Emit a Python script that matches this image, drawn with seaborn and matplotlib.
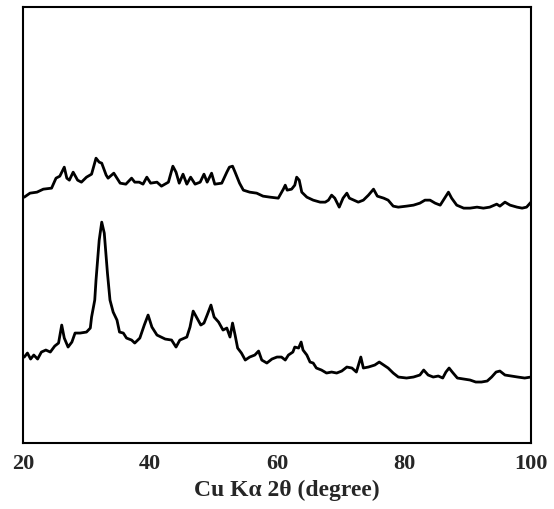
import numpy as np
import pandas as pd
import matplotlib
matplotlib.use("Agg")
import matplotlib.pyplot as plt
import seaborn as sns

sns.set_style("white")
plt.rcParams["font.family"] = ["Liberation Serif", "DejaVu Serif"]

# upper pattern (2theta, intensity in arbitrary units)
upper_x = [20.0, 20.2, 21.1, 22.2, 23.2, 24.5, 25.2, 25.8, 26.5, 26.9, 27.3, 27.9, 28.6,
           29.2, 30.0, 30.8, 31.5, 32.0, 32.4, 33.1, 33.4, 34.3, 35.3, 36.2, 37.1, 37.6,
           38.3, 38.9, 39.5, 40.1, 41.1, 41.8, 42.9, 43.6, 44.1, 44.6, 45.2, 45.8, 46.4,
           47.1, 47.9, 48.5, 49.0, 49.7, 50.2, 51.3, 52.1, 52.5, 53.0, 53.4, 54.1, 54.7,
           55.7, 56.8, 57.8, 58.9, 60.2, 61.0, 61.3, 61.6, 62.3, 62.8, 63.1, 63.5, 63.9,
           64.7, 65.7, 66.8, 67.6, 68.1, 68.6, 69.1, 69.8, 70.4, 71.0, 71.4, 72.1, 72.8,
           73.6, 74.4, 75.2, 75.8, 76.8, 77.5, 78.3, 79.1, 80.4, 81.5, 82.5, 83.3, 84.1,
           84.9, 85.7, 86.5, 87.0, 87.5, 88.3, 89.4, 90.4, 91.5, 92.5, 93.5, 94.6, 95.1,
           95.9, 96.7, 97.8, 98.6, 99.3, 100.0]
upper_y = [246, 246, 250, 251, 254, 255, 265, 267, 276, 265, 263, 271, 263,
           261, 266, 269, 285, 281, 280, 268, 265, 270, 260, 259, 265, 261,
           261, 259, 266, 260, 261, 257, 261, 277, 271, 260, 269, 259, 266,
           259, 261, 269, 261, 270, 259, 260, 271, 276, 277, 271, 260, 253,
           251, 250, 247, 246, 245, 254, 258, 253, 254, 258, 266, 263, 251,
           246, 243, 241, 241, 243, 248, 245, 236, 245, 250, 245, 243, 241,
           243, 248, 254, 247, 245, 243, 237, 236, 237, 238, 240, 243, 243,
           240, 238, 246, 251, 245, 238, 235, 235, 236, 235, 236, 239, 237,
           241, 238, 236, 235, 236, 241]

# lower pattern
lower_x = [20.0, 20.2, 20.7, 21.2, 21.7, 22.3, 22.9, 23.6, 24.3, 25.0, 25.6, 26.1, 26.5,
           27.1, 27.7, 28.2, 29.0, 30.0, 30.6, 30.8, 31.3, 31.5, 32.0, 32.4, 32.8, 33.3,
           33.7, 34.2, 34.8, 35.2, 35.8, 36.3, 37.1, 37.6, 38.4, 39.1, 39.7, 40.3, 41.1,
           42.4, 43.4, 44.1, 44.7, 45.8, 46.3, 46.8, 47.4, 48.0, 48.5, 49.0, 49.6, 50.1,
           50.8, 51.5, 52.1, 52.6, 53.0, 53.4, 53.8, 54.4, 55.0, 55.7, 56.5, 57.1, 57.6,
           58.4, 59.2, 60.0, 60.7, 61.3, 61.8, 62.5, 62.8, 63.4, 63.8, 64.1, 64.7, 65.2,
           65.7, 66.2, 67.0, 67.8, 68.6, 69.4, 70.2, 71.0, 71.8, 72.5, 73.2, 73.6, 74.4,
           75.4, 76.1, 76.8, 77.5, 78.3, 79.1, 80.4, 81.5, 82.5, 83.1, 83.8, 84.6, 85.4,
           86.1, 86.6, 87.1, 87.6, 88.4, 89.4, 90.4, 91.3, 92.2, 93.1, 93.8, 94.5, 95.1,
           95.9, 96.9, 97.9, 99.0, 100.0]
lower_y = [86, 86, 90, 84, 88, 84, 91, 93, 91, 97, 100, 118, 105,
           96, 101, 110, 110, 111, 115, 126, 143, 163, 203, 221, 210, 170,
           143, 131, 123, 111, 110, 105, 103, 100, 105, 118, 128, 116, 108,
           104, 103, 96, 103, 106, 116, 132, 125, 118, 120, 128, 138, 126,
           121, 113, 115, 106, 120, 108, 95, 90, 83, 86, 88, 92, 83,
           80, 84, 86, 86, 83, 88, 91, 96, 95, 101, 93, 88, 81,
           80, 75, 73, 70, 71, 70, 72, 76, 75, 71, 86, 75, 76,
           78, 81, 78, 75, 70, 66, 65, 66, 68, 73, 68, 66, 67,
           65, 71, 75, 71, 65, 64, 63, 61, 61, 62, 66, 71, 72,
           68, 67, 66, 65, 66]

df = pd.concat([
    pd.DataFrame({"two_theta": upper_x, "intensity": upper_y, "sample": "upper"}),
    pd.DataFrame({"two_theta": lower_x, "intensity": lower_y, "sample": "lower"}),
])

fig = plt.figure(figsize=(5.54, 5.09), dpi=100)
ax = fig.add_axes([0.0415, 0.1297, 0.917, 0.856])

sns.lineplot(data=df, x="two_theta", y="intensity", units="sample", estimator=None,
             color="black", linewidth=2.0, sort=False, ax=ax)

ax.set_xlim(20, 100)
ax.set_ylim(0, 436)
ax.set_xticks([20, 40, 60, 80, 100])
ax.set_yticks([])
ax.tick_params(axis="x", length=0, pad=8)
for lab in ax.get_xticklabels():
    lab.set_fontsize(16)
    lab.set_fontweight("bold")
ax.set_xlabel("Cu K\u03b1 2\u03b8 (degree)", fontsize=17, fontweight="bold", labelpad=4)
ax.xaxis.label.set_x(0.52)
ax.set_ylabel("")
for sp in ax.spines.values():
    sp.set_color("black")
    sp.set_linewidth(1.5)

fig.savefig("out.png", dpi=100)
